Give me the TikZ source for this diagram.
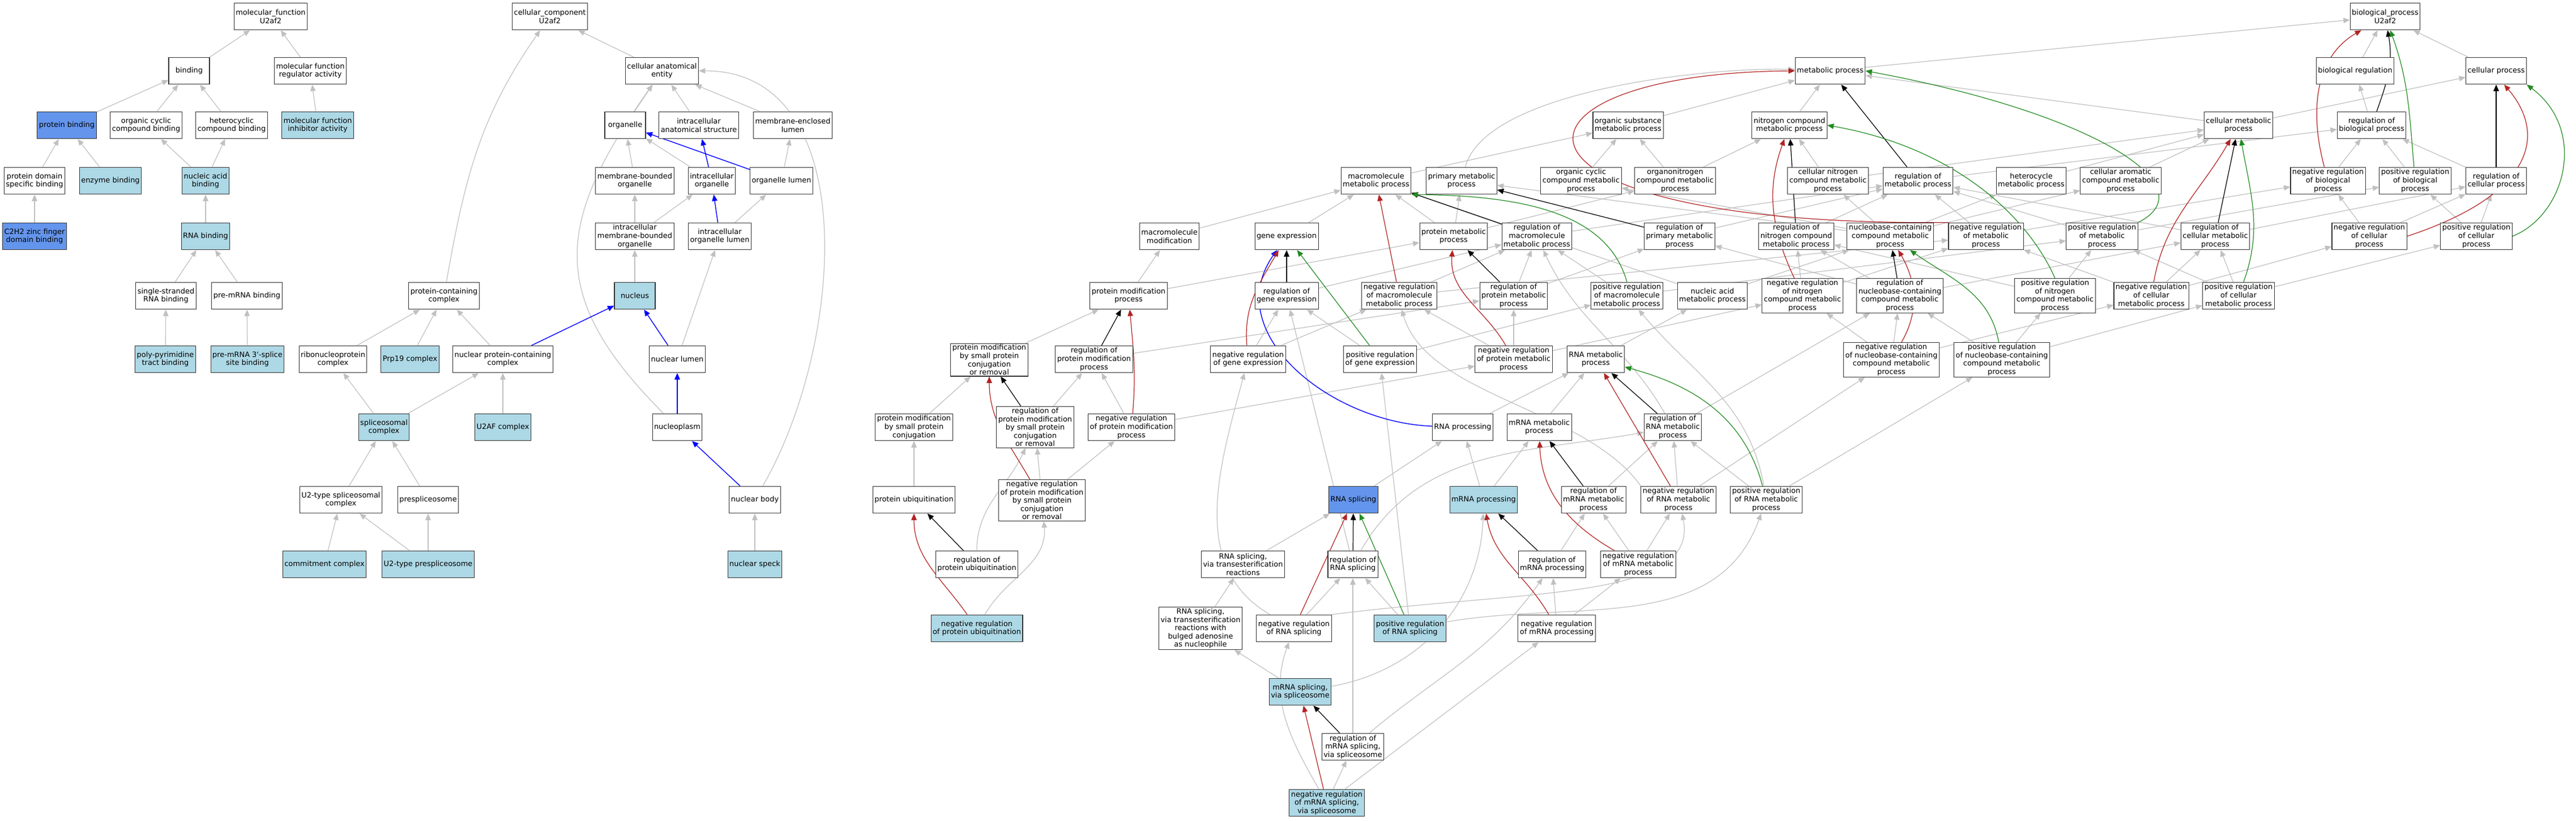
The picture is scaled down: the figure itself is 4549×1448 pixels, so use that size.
\documentclass[tikz,border=0pt]{standalone}
\usepackage{fontspec}
\setmainfont{DejaVu Sans}
\usepackage{tikz}
\usepackage{xcolor}
\usetikzlibrary{arrows.meta}

\definecolor{isagray}{HTML}{C0C0C0}
\definecolor{negred}{HTML}{B22222}
\definecolor{posgreen}{HTML}{228B22}
\definecolor{annoblue}{HTML}{ADD8E6}
\definecolor{hitblue}{HTML}{6495ED}
\pgfdeclarelayer{edges}
\pgfsetlayers{edges,main}

\begin{document}
\begin{tikzpicture}[
        x=0.02cm, y=-0.02cm,
        term/.style={rectangle, draw=black!80, fill=white, line width=0.6pt, align=center,
            font=\fontsize{7.35}{8.3}\selectfont, inner xsep=1.7pt, inner ysep=1.2pt,
            minimum width=1.44cm, minimum height=0.952cm},
        anno/.style={term, fill=annoblue},
        hit/.style={term, fill=hitblue},
        isa/.style={->, draw=isagray, line width=0.7pt},
        reg/.style={->, draw=black, line width=0.7pt},
        negreg/.style={->, draw=negred, line width=0.7pt},
        posreg/.style={->, draw=posgreen, line width=0.7pt},
        partof/.style={->, draw=blue, line width=0.8pt},
        >={Triangle[length=6.5pt,width=5.4pt]}
    ]
        \useasboundingbox (0,0) rectangle (4549,1448);

        % Molecular function
        \node[term] (mf) at (478,29) {molecular\_function\\U2af2};
        \node[term] (binding) at (334,125) {binding};
        \node[term] (mfreg) at (548,125) {molecular function\\regulator activity};
        \node[hit] (protbind) at (118,221) {protein binding};
        \node[term] (orgcycbind) at (258,221) {organic cyclic\\compound binding};
        \node[term] (hetcycbind) at (409,221) {heterocyclic\\compound binding};
        \node[anno] (mfinhib) at (561,221) {molecular function\\inhibitor activity};
        \node[term] (pdombind) at (61,319) {protein domain\\specific binding};
        \node[anno] (enzbind) at (195,319) {enzyme binding};
        \node[anno] (nucacidbind) at (363,319) {nucleic acid\\binding};
        \node[hit] (zincbind) at (61,417) {C2H2 zinc finger\\domain binding};
        \node[anno] (rnabind) at (363,417) {RNA binding};
        \node[term] (ssrnabind) at (293,522) {single-stranded\\RNA binding};
        \node[term] (premrnabind) at (436,522) {pre-mRNA binding};
        \node[anno] (polypyr) at (292,634) {poly-pyrimidine\\tract binding};
        \node[anno] (splicesite) at (437,634) {pre-mRNA 3\textquotesingle-splice\\site binding};

        % Cellular component
        \node[term] (cc) at (971,29) {cellular\_component\\U2af2};
        \node[term] (cae) at (1169,125) {cellular anatomical\\entity};
        \node[term] (organelle) at (1104,221) {organelle};
        \node[term] (ias) at (1234,221) {intracellular\\anatomical structure};
        \node[term] (mel) at (1400,221) {membrane-enclosed\\lumen};
        \node[term] (mbo) at (1121,319) {membrane-bounded\\organelle};
        \node[term] (intorg) at (1257,319) {intracellular\\organelle};
        \node[term] (orglumen) at (1380,319) {organelle lumen};
        \node[term] (imbo) at (1121,417) {intracellular\\membrane-bounded\\organelle};
        \node[term] (iol) at (1271,417) {intracellular\\organelle lumen};
        \node[anno] (nucleus) at (1121,522) {nucleus};
        \node[term] (protcomplex) at (784,522) {protein-containing\\complex};
        \node[term] (rnp) at (588,634) {ribonucleoprotein\\complex};
        \node[anno] (prp19) at (724,634) {Prp19 complex};
        \node[term] (npc) at (888,634) {nuclear protein-containing\\complex};
        \node[term] (nuclumen) at (1196,634) {nuclear lumen};
        \node[anno] (spliceosomal) at (678,754) {spliceosomal\\complex};
        \node[anno] (u2af) at (888,754) {U2AF complex};
        \node[term] (nucleoplasm) at (1196,754) {nucleoplasm};
        \node[term] (u2type) at (602,882) {U2-type spliceosomal\\complex};
        \node[term] (prespl) at (756,882) {prespliceosome};
        \node[term] (nucbody) at (1333,882) {nuclear body};
        \node[anno] (commit) at (573,996) {commitment complex};
        \node[anno] (u2pre) at (756,996) {U2-type prespliceosome};
        \node[anno] (speck) at (1333,996) {nuclear speck};

        % Biological process
        \node[term] (bp) at (4212,29) {biological\_process\\U2af2};
        \node[term] (biolreg) at (4159,125) {biological regulation};
        \node[term] (cellproc) at (4408,125) {cellular process};
        \node[term] (metproc) at (3232,125) {metabolic process};
        \node[term] (orgsubmet) at (2875,221) {organic substance\\metabolic process};
        \node[term] (nitromet) at (3160,221) {nitrogen compound\\metabolic process};
        \node[term] (cellmet) at (3953,221) {cellular metabolic\\process};
        \node[term] (regbio) at (4188,221) {regulation of\\biological process};
        \node[term] (macromet) at (2430,319) {macromolecule\\metabolic process};
        \node[term] (primet) at (2581,319) {primary metabolic\\process};
        \node[term] (orgcycmet) at (2792,319) {organic cyclic\\compound metabolic\\process};
        \node[term] (orgnitromet) at (2958,319) {organonitrogen\\compound metabolic\\process};
        \node[term] (cellnitromet) at (3228,319) {cellular nitrogen\\compound metabolic\\process};
        \node[term] (regmet) at (3387,319) {regulation of\\metabolic process};
        \node[term] (hetmet) at (3587,319) {heterocycle\\metabolic process};
        \node[term] (aromet) at (3745,319) {cellular aromatic\\compound metabolic\\process};
        \node[term] (negbio) at (4111,319) {negative regulation\\of biological\\process};
        \node[term] (posbio) at (4265,319) {positive regulation\\of biological\\process};
        \node[term] (regcell) at (4408,319) {regulation of\\cellular process};
        \node[term] (macromod) at (2065,417) {macromolecule\\modification};
        \node[term] (geneexp) at (2272,417) {gene expression};
        \node[term] (protmet) at (2567,417) {protein metabolic\\process};
        \node[term] (regmacromet) at (2714,417) {regulation of\\macromolecule\\metabolic process};
        \node[term] (regprimet) at (2966,417) {regulation of\\primary metabolic\\process};
        \node[term] (regnitromet) at (3172,417) {regulation of\\nitrogen compound\\metabolic process};
        \node[term] (nbmet) at (3338,417) {nucleobase-containing\\compound metabolic\\process};
        \node[term] (negmet) at (3507,417) {negative regulation\\of metabolic\\process};
        \node[term] (posmet) at (3712,417) {positive regulation\\of metabolic\\process};
        \node[term] (regcellmet) at (3912,417) {regulation of\\cellular metabolic\\process};
        \node[term] (negcell) at (4184,417) {negative regulation\\of cellular\\process};
        \node[term] (poscell) at (4373,417) {positive regulation\\of cellular\\process};
        \node[term] (protmod) at (1993,522) {protein modification\\process};
        \node[term] (reggene) at (2272,522) {regulation of\\gene expression};
        \node[term] (negmacromet) at (2471,522) {negative regulation\\of macromolecule\\metabolic process};
        \node[term] (regprotmet) at (2673,522) {regulation of\\protein metabolic\\process};
        \node[term] (posmacromet) at (2873,522) {positive regulation\\of macromolecule\\metabolic process};
        \node[term] (nucacidmet) at (3024,522) {nucleic acid\\metabolic process};
        \node[term] (negnitromet) at (3183,522) {negative regulation\\of nitrogen\\compound metabolic\\process};
        \node[term] (regnbmet) at (3355,522) {regulation of\\nucleobase-containing\\compound metabolic\\process};
        \node[term] (posnitromet) at (3629,522) {positive regulation\\of nitrogen\\compound metabolic\\process};
        \node[term] (negcellmet) at (3799,522) {negative regulation\\of cellular\\metabolic process};
        \node[term] (poscellmet) at (3953,522) {positive regulation\\of cellular\\metabolic process};
        \node[term] (smallmod) at (1747,635) {protein modification\\by small protein\\conjugation\\or removal};
        \node[term] (regprotmod) at (1932,634) {regulation of\\protein modification\\process};
        \node[term] (neggene) at (2204,634) {negative regulation\\of gene expression};
        \node[term] (posgene) at (2437,634) {positive regulation\\of gene expression};
        \node[term] (negprotmet) at (2673,634) {negative regulation\\of protein metabolic\\process};
        \node[term] (rnamet) at (2818,634) {RNA metabolic\\process};
        \node[term] (negnbmet) at (3340,635) {negative regulation\\of nucleobase-containing\\compound metabolic\\process};
        \node[term] (posnbmet) at (3535,635) {positive regulation\\of nucleobase-containing\\compound metabolic\\process};
        \node[term] (smallconj) at (1614,754) {protein modification\\by small protein\\conjugation};
        \node[term] (regsmallmod) at (1828,754) {regulation of\\protein modification\\by small protein\\conjugation\\or removal};
        \node[term] (negprotmod) at (1998,754) {negative regulation\\of protein modification\\process};
        \node[term] (rnaproc) at (2583,754) {RNA processing};
        \node[term] (mrnamet) at (2718,754) {mRNA metabolic\\process};
        \node[term] (regrnamet) at (2954,754) {regulation of\\RNA metabolic\\process};
        \node[term] (protubiq) at (1614,882) {protein ubiquitination};
        \node[term] (negsmallmod) at (1840,883) {negative regulation\\of protein modification\\by small protein\\conjugation\\or removal};
        \node[hit] (rnasplice) at (2390,882) {RNA splicing};
        \node[anno] (mrnaproc) at (2620,882) {mRNA processing};
        \node[term] (regmrnamet) at (2814,882) {regulation of\\mRNA metabolic\\process};
        \node[term] (negrnamet) at (2964,882) {negative regulation\\of RNA metabolic\\process};
        \node[term] (posrnamet) at (3119,882) {positive regulation\\of RNA metabolic\\process};
        \node[term] (regubiq) at (1725,996) {regulation of\\protein ubiquitination};
        \node[term] (transest) at (2195,996) {RNA splicing,\\via transesterification\\reactions};
        \node[term] (regrnasplice) at (2389,996) {regulation of\\RNA splicing};
        \node[term] (regmrnaproc) at (2741,996) {regulation of\\mRNA processing};
        \node[term] (negmrnamet) at (2893,996) {negative regulation\\of mRNA metabolic\\process};
        \node[anno] (negubiq) at (1725,1109) {negative regulation\\of protein ubiquitination};
        \node[term] (bulged) at (2120,1109) {RNA splicing,\\via transesterification\\reactions with\\bulged adenosine\\as nucleophile};
        \node[term] (negrnasplice) at (2285,1109) {negative regulation\\of RNA splicing};
        \node[anno] (posrnasplice) at (2490,1109) {positive regulation\\of RNA splicing};
        \node[term] (negmrnaproc) at (2749,1109) {negative regulation\\of mRNA processing};
        \node[anno] (mrnasplice) at (2296,1221) {mRNA splicing,\\via spliceosome};
        \node[term] (regmrnasplice) at (2389,1318) {regulation of\\mRNA splicing,\\via spliceosome};
        \node[anno] (negmrnasplice) at (2343,1417) {negative regulation\\of mRNA splicing,\\via spliceosome};

        \begin{pgfonlayer}{edges}
        % is_a
        \foreach \a/\b in {binding/mf, mfreg/mf, protbind/binding, orgcycbind/binding, hetcycbind/binding,
                mfinhib/mfreg, pdombind/protbind, enzbind/protbind, nucacidbind/orgcycbind,
                nucacidbind/hetcycbind, zincbind/pdombind, rnabind/nucacidbind, ssrnabind/rnabind,
                premrnabind/rnabind, polypyr/ssrnabind, splicesite/premrnabind}
            \draw[isa] (\a) -- (\b);
        \foreach \a/\b in {cae/cc, organelle/cae, ias/cae, mel/cae, mbo/organelle, intorg/organelle,
                orglumen/mel, imbo/mbo, imbo/intorg, iol/orglumen, nucleus/imbo, npc/protcomplex,
                nuclumen/iol, rnp/protcomplex, prp19/protcomplex, spliceosomal/rnp, spliceosomal/npc,
                u2af/npc, u2type/spliceosomal, prespl/spliceosomal, commit/u2type, u2pre/u2type,
                u2pre/prespl, speck/nucbody}
            \draw[isa] (\a) -- (\b);
        \foreach \a/\b in {biolreg/bp, cellproc/bp, metproc/bp, regbio/biolreg, cellmet/cellproc,
                cellmet/metproc, orgsubmet/metproc, nitromet/metproc, macromet/orgsubmet,
                orgcycmet/orgsubmet, orgnitromet/orgsubmet, orgnitromet/nitromet,
                cellnitromet/nitromet, cellnitromet/cellmet, hetmet/cellmet, aromet/cellmet,
                regmet/regbio, negbio/regbio, posbio/regbio, regcell/regbio, negcell/regcell,
                negcell/negbio, poscell/regcell, poscell/posbio, macromod/macromet, geneexp/macromet,
                protmet/macromet, protmet/primet, protmet/orgnitromet, regmacromet/regmet,
                regprimet/regmet, regnitromet/regmet, regcellmet/regmet, regcellmet/regcell,
                nbmet/cellnitromet, nbmet/hetmet, nbmet/aromet, nbmet/primet, nbmet/orgcycmet,
                negmet/regmet, negmet/negbio, posmet/regmet, posmet/posbio, protmod/macromod,
                protmod/protmet, reggene/regmacromet, negmacromet/regmacromet, negmacromet/negmet,
                regprotmet/regmacromet, regprotmet/regprimet, posmacromet/regmacromet,
                posmacromet/posmet, nucacidmet/nbmet, nucacidmet/macromet, negnitromet/regnitromet,
                negnitromet/negmet, regnbmet/regnitromet, regnbmet/regcellmet, regnbmet/regprimet,
                posnitromet/regnitromet, posnitromet/posmet, negcellmet/regcellmet, negcellmet/negmet,
                negcellmet/negcell, poscellmet/regcellmet, poscellmet/posmet, poscellmet/poscell}
            \draw[isa] (\a) -- (\b);
        \foreach \a/\b in {smallmod/protmod, regprotmod/regprotmet, neggene/reggene,
                neggene/negmacromet, posgene/reggene, posgene/posmacromet, negprotmet/regprotmet,
                negprotmet/negmacromet, negprotmet/negnitromet, rnamet/nucacidmet, negnbmet/regnbmet,
                negnbmet/negnitromet, negnbmet/negcellmet, posnbmet/regnbmet, posnbmet/posnitromet,
                posnbmet/poscellmet, smallconj/smallmod, regsmallmod/regprotmod, negprotmod/regprotmod,
                negprotmod/negprotmet, rnaproc/rnamet, mrnamet/rnamet, regrnamet/regnbmet,
                protubiq/smallconj, negsmallmod/regsmallmod, negsmallmod/negprotmod, rnasplice/rnaproc,
                mrnaproc/rnaproc, mrnaproc/mrnamet, regmrnamet/regrnamet, negrnamet/regrnamet,
                negrnamet/negnbmet, posrnamet/regrnamet, posrnamet/posnbmet, transest/rnasplice,
                negrnasplice/regrnasplice, posrnasplice/regrnasplice, regmrnaproc/regmrnamet,
                negmrnamet/regmrnamet, negmrnamet/negrnamet, negmrnaproc/regmrnaproc,
                negmrnaproc/negmrnamet, bulged/transest, mrnasplice/bulged,
                regmrnasplice/regrnasplice, negmrnasplice/regmrnasplice, negmrnasplice/negmrnaproc,
                regrnasplice/reggene, posrnasplice/posgene}
            \draw[isa] (\a) -- (\b);
        % curved is_a
        \draw[isa] (protcomplex) to[out=80,in=-125] (cc);
        \draw[isa] (nucleoplasm) to[out=135,in=-125,looseness=1.3] (cae);
        \draw[isa] (nucbody) to[out=60,in=0] (cae);
        \draw[isa] (primet) to[out=75,in=178,looseness=0.6] (metproc);
        \draw[isa] (regubiq) to[out=90,in=-115] (regsmallmod);
        \draw[isa] (negubiq) to[out=60,in=-85] (negsmallmod);
        \draw[isa] (mrnasplice) to[out=10,in=-92] (mrnaproc);
        \draw[isa] (negrnasplice.north east) .. controls (2700,1040) and (3000,1060) .. (negrnamet.-75);
        \draw[isa] (posrnasplice) to[out=10,in=-110] (posrnamet);
        \draw[isa] (negrnasplice) to[out=150,in=-105] (neggene);
        \draw[isa] (regrnasplice) to[out=60,in=190] (regrnamet);
        \draw[isa] (regmrnasplice) to[out=40,in=-125] (regmrnaproc);
        \draw[isa] (negmrnasplice) to[out=120,in=-110] (negrnasplice);
        \draw[isa] (negrnamet.north west) .. controls (2800,720) and (2520,700) .. (negmacromet.-80);
        \draw[isa] (regrnamet) to[out=120,in=-65] (regmacromet);
        \draw[isa] (posrnamet) to[out=100,in=-50] (posmacromet);

        % part_of
        \foreach \a/\b in {intorg/ias, orglumen/organelle, iol/intorg, npc/nucleus, nuclumen/nucleus,
                nucleoplasm/nuclumen, nucbody/nucleoplasm}
            \draw[partof] (\a) -- (\b);
        \draw[partof] (rnaproc) to[out=178,in=-125,looseness=1.1] (geneexp);

        % regulates
        \foreach \a/\b in {regcell/cellproc, regmet/metproc, regcellmet/cellmet, regnitromet/nitromet,
                regnbmet/nbmet, regmacromet/macromet, regprimet/primet, regprotmet/protmet,
                reggene/geneexp, regprotmod/protmod, regsmallmod/smallmod, regubiq/protubiq,
                regrnamet/rnamet, regmrnamet/mrnamet, regmrnaproc/mrnaproc, regrnasplice/rnasplice,
                regmrnasplice/mrnasplice}
            \draw[reg] (\a) -- (\b);
        \draw[reg] (regbio) to[out=70,in=-80] (bp);

        % negatively regulates
        \foreach \a/\b in {negmacromet/macromet, negrnamet/rnamet, negrnasplice/rnasplice,
                negmrnasplice/mrnasplice}
            \draw[negreg] (\a) -- (\b);
        \draw[negreg] (negbio) to[out=105,in=-150] (bp);
        \draw[negreg] (negcell.east) .. controls (4470,345) and (4500,240) .. (cellproc.-60);
        \draw[negreg] (negmet.north west) .. controls (2600,400) and (2620,130) .. (metproc.west);
        \draw[negreg] (negcellmet) to[out=80,in=-120] (cellmet);
        \draw[negreg] (negnitromet) to[out=115,in=-110] (nitromet);
        \draw[negreg] (negnbmet) to[out=60,in=-60] (nbmet);
        \draw[negreg] (negprotmet) to[out=120,in=-95] (protmet);
        \draw[negreg] (neggene) to[out=95,in=-120] (geneexp);
        \draw[negreg] (negprotmod) to[out=85,in=-85] (protmod);
        \draw[negreg] (negsmallmod) to[out=120,in=-90] (smallmod);
        \draw[negreg] (negubiq) to[out=125,in=-90] (protubiq);
        \draw[negreg] (negmrnamet) to[out=150,in=-88] (mrnamet);
        \draw[negreg] (negmrnaproc) to[out=120,in=-80] (mrnaproc);

        % positively regulates
        \foreach \a/\b in {posgene/geneexp, posrnasplice/rnasplice}
            \draw[posreg] (\a) -- (\b);
        \draw[posreg] (posbio) to[out=95,in=-70] (bp);
        \draw[posreg] (poscell.east) .. controls (4530,380) and (4570,230) .. (cellproc.south east);
        \draw[posreg] (posmet.north east) .. controls (3900,330) and (3700,200) .. (metproc.east);
        \draw[posreg] (poscellmet) to[out=70,in=-80] (cellmet);
        \draw[posreg] (posnitromet.north) .. controls (3580,380) and (3450,260) .. (nitromet.east);
        \draw[posreg] (posnbmet) to[out=100,in=-35] (nbmet);
        \draw[posreg] (posmacromet.north) .. controls (2840,380) and (2700,345) .. (macromet.south east);
        \draw[posreg] (posrnamet) to[out=105,in=-15] (rnamet);
        \end{pgfonlayer}
    \end{tikzpicture}
\end{document}
